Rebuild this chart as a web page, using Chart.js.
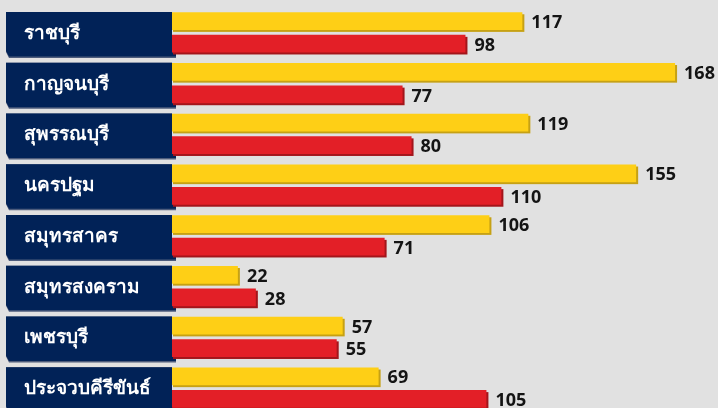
<!DOCTYPE html>
<html>
<head>
<meta charset="utf-8">
<script src="https://cdn.jsdelivr.net/npm/chart.js@4.4.1/dist/chart.umd.min.js"></script>
<style>
  html, body { margin: 0; padding: 0; background: #e1e1e1; overflow: hidden; }
  #wrap { position: relative; width: 718px; height: 413px; }
</style>
</head>
<body>
<div id="wrap"><canvas id="chart"></canvas></div>
<script>
const PROVINCES = ['ราชบุรี', 'กาญจนบุรี', 'สุพรรณบุรี', 'นครปฐม', 'สมุทรสาคร', 'สมุทรสงคราม', 'เพชรบุรี', 'ประจวบคีรีขันธ์'];
const YELLOW_VALUES = [117, 168, 119, 155, 106, 22, 57, 69];
const RED_VALUES = [98, 77, 80, 110, 71, 28, 55, 105];

const NAVY = '#012257';
const NAVY_EDGE = '#4d5c7c';
const BAR_COLORS = ['#fecf16', '#e31f27'];
const SHADOW_COLORS = ['#c6a114', '#a3151b'];

// navy label boxes with the province names
const labelBoxes = {
    id: 'labelBoxes',
    beforeDraw(chart) {
        var ctx = chart.ctx;
        var y = chart.scales.y;
        ctx.save();
        PROVINCES.forEach((p, i) => {
            var c = y.getPixelForValue(i);
            var top = c - 20.5;
            var bottom = c + 24.5;
            ctx.fillStyle = NAVY_EDGE;
            ctx.beginPath();
            ctx.moveTo(6, top);
            ctx.lineTo(172, top);
            ctx.lineTo(172, bottom - 6);
            ctx.lineTo(176, bottom - 6);
            ctx.lineTo(176, bottom + 1);
            ctx.lineTo(9, bottom + 1);
            ctx.lineTo(6, bottom - 5);
            ctx.closePath();
            ctx.fill();
            ctx.fillStyle = NAVY;
            ctx.beginPath();
            ctx.moveTo(6, top);
            ctx.lineTo(172, top);
            ctx.lineTo(172, bottom - 6);
            ctx.lineTo(176, bottom - 6);
            ctx.lineTo(176, bottom - 0.5);
            ctx.lineTo(9, bottom - 0.5);
            ctx.lineTo(6, bottom - 6);
            ctx.closePath();
            ctx.fill();
            ctx.fillStyle = '#ffffff';
            ctx.font = 'bold 19px "Noto Sans", sans-serif';
            ctx.textAlign = 'left';
            ctx.textBaseline = 'middle';
            ctx.fillText(p, 24, c + 1);
        });
        ctx.restore();
    }
};

// darker edge under and right of each bar
const barShadows = {
    id: 'barShadows',
    beforeDatasetsDraw(chart) {
        var ctx = chart.ctx;
        ctx.save();
        chart.data.datasets.forEach((ds, d) => {
            ctx.fillStyle = SHADOW_COLORS[d];
            chart.getDatasetMeta(d).data.forEach(bar => {
                var h = bar.height;
                ctx.fillRect(bar.base + 1, bar.y - h / 2 + 2, bar.x - bar.base + 1, h);
            });
        });
        ctx.restore();
    }
};

const valueLabels = {
    id: 'valueLabels',
    afterDatasetsDraw(chart) {
        var ctx = chart.ctx;
        ctx.save();
        ctx.fillStyle = '#141414';
        ctx.font = 'bold 18px "Noto Sans", sans-serif';
        ctx.textAlign = 'left';
        ctx.textBaseline = 'middle';
        chart.data.datasets.forEach((ds, d) => {
            chart.getDatasetMeta(d).data.forEach((bar, i) => {
                ctx.fillText(ds.data[i], bar.x + 9, bar.y + 2);
            });
        });
        ctx.restore();
    }
};

new Chart(document.getElementById('chart'), {
    type: 'bar',
    data: {
        labels: PROVINCES,
        datasets: [
            { data: YELLOW_VALUES, backgroundColor: BAR_COLORS[0] },
            { data: RED_VALUES, backgroundColor: BAR_COLORS[1] }
        ]
    },
    options: {
        indexAxis: 'y',
        responsive: true,
        maintainAspectRatio: false,
        animation: false,
        categoryPercentage: 0.89,
        barPercentage: 0.78,
        borderWidth: 0,
        layout: { padding: { left: 24, top: 7, right: 7, bottom: 0 } },
        plugins: {
            legend: { display: false },
            tooltip: { enabled: false }
        },
        scales: {
            x: { display: false, min: 0, max: 180 },
            y: {
                grid: { display: false },
                border: { display: false },
                afterFit(scale) { scale.width = 148; },
                ticks: { display: false }
            }
        }
    },
    plugins: [labelBoxes, barShadows, valueLabels]
});
</script>
</body>
</html>
